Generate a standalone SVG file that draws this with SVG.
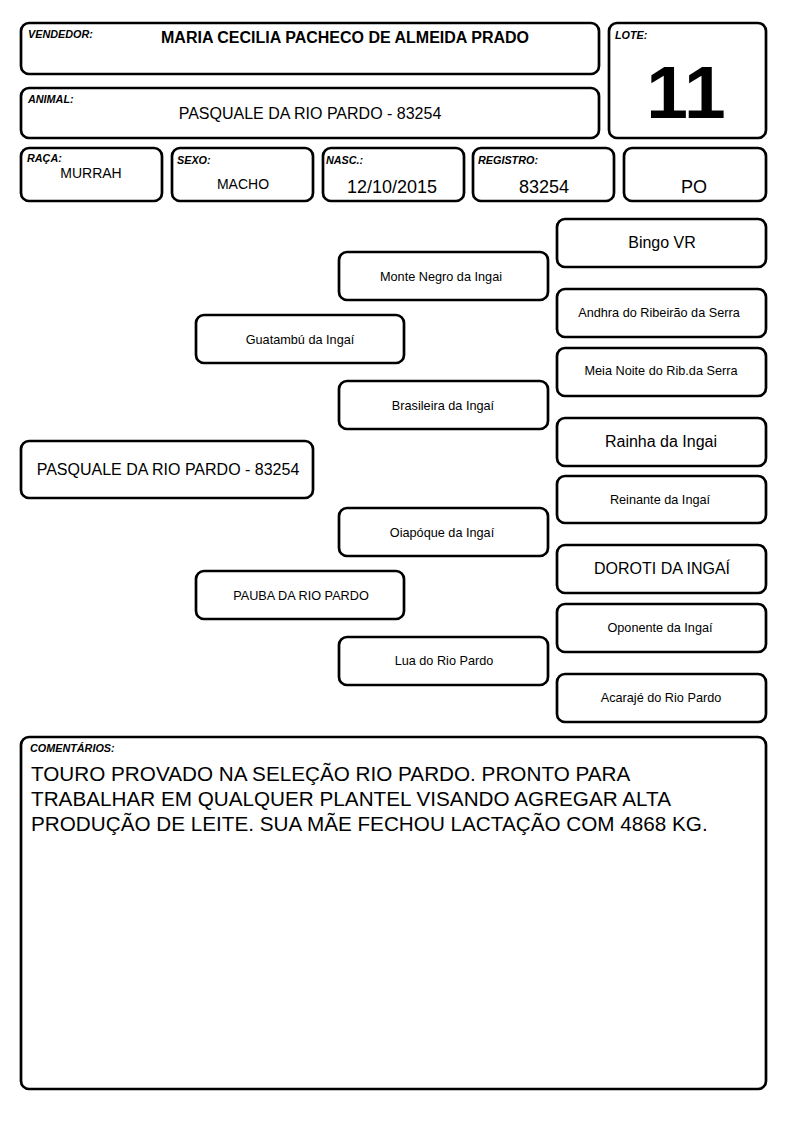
<svg xmlns="http://www.w3.org/2000/svg" width="794" height="1123" viewBox="0 0 794 1123">
<style>
.b{fill:#fff;stroke:#000;stroke-width:2.7}
.lbl{font-family:"Liberation Sans",Arial,sans-serif;font-size:10.8px;font-weight:bold;font-style:italic}
.t{font-family:"Liberation Sans",Arial,sans-serif;fill:#000}
.c{text-anchor:middle}
.s{font-size:12.7px}
.m{font-size:16px}
.l{font-size:18px}
</style>
<rect width="794" height="1123" fill="#fff"/>
<g id="vendedor"><rect class="b" x="21" y="23" width="578" height="51" rx="8"/><text class="lbl" x="28" y="38">VENDEDOR:</text><text class="t c" x="345" y="43" font-size="16" font-weight="bold">MARIA CECILIA PACHECO DE ALMEIDA PRADO</text></g>
<g id="animal"><rect class="b" x="21" y="88" width="578" height="50" rx="8"/><text class="lbl" x="28" y="103">ANIMAL:</text><text class="t c m" x="310" y="119">PASQUALE DA RIO PARDO - 83254</text></g>
<g id="lote"><rect class="b" x="609" y="23" width="157" height="115" rx="8"/><text class="lbl" x="615" y="39">LOTE:</text><text class="t c" x="686" y="118" font-size="75" font-weight="bold">11</text></g>
<g id="raca"><rect class="b" x="21" y="148" width="141" height="53" rx="8"/><text class="lbl" x="27" y="162">RAÇA:</text><text class="t c" x="91" y="178" font-size="14">MURRAH</text></g>
<g id="sexo"><rect class="b" x="172" y="148" width="141" height="53" rx="8"/><text class="lbl" x="177" y="164">SEXO:</text><text class="t c" x="243" y="189" font-size="14">MACHO</text></g>
<g id="nasc"><rect class="b" x="323" y="148" width="141" height="53" rx="8"/><text class="lbl" x="326" y="164">NASC.:</text><text class="t c l" x="392" y="193">12/10/2015</text></g>
<g id="registro"><rect class="b" x="473" y="148" width="141" height="53" rx="8"/><text class="lbl" x="478" y="164">REGISTRO:</text><text class="t c l" x="544" y="193">83254</text></g>
<g id="po"><rect class="b" x="624" y="148" width="142" height="53" rx="8"/><text class="t c l" x="694" y="193">PO</text></g>
<g id="connectors"></g>
<g id="pasquale"><rect class="b" x="21" y="441" width="292" height="57" rx="8"/><text class="t c m" x="168" y="475">PASQUALE DA RIO PARDO - 83254</text></g>
<g id="guatambu"><rect class="b" x="196" y="315" width="208" height="48" rx="8"/><text class="t c s" x="300" y="344">Guatambú da Ingaí</text></g>
<g id="pauba"><rect class="b" x="196" y="571" width="208" height="48" rx="8"/><text class="t c s" x="301" y="600">PAUBA DA RIO PARDO</text></g>
<g id="montenegro"><rect class="b" x="339" y="252" width="209" height="48" rx="8"/><text class="t c s" x="441" y="281">Monte Negro da Ingai</text></g>
<g id="brasileira"><rect class="b" x="339" y="381" width="209" height="48" rx="8"/><text class="t c s" x="443" y="410">Brasileira da Ingaí</text></g>
<g id="oiapoque"><rect class="b" x="339" y="508" width="209" height="48" rx="8"/><text class="t c s" x="442" y="537">Oiapóque da Ingaí</text></g>
<g id="lua"><rect class="b" x="339" y="637" width="209" height="48" rx="8"/><text class="t c s" x="444" y="665">Lua do Rio Pardo</text></g>
<g id="bingo"><rect class="b" x="557" y="219" width="209" height="48" rx="8"/><text class="t c m" x="662" y="248">Bingo VR</text></g>
<g id="andhra"><rect class="b" x="557" y="289" width="209" height="48" rx="8"/><text class="t c s" x="659" y="317">Andhra do Ribeirão da Serra</text></g>
<g id="meianoite"><rect class="b" x="557" y="348" width="209" height="48" rx="8"/><text class="t c s" x="661" y="375">Meia Noite do Rib.da Serra</text></g>
<g id="rainha"><rect class="b" x="557" y="418" width="209" height="48" rx="8"/><text class="t c m" x="661" y="447">Rainha da Ingai</text></g>
<g id="reinante"><rect class="b" x="557" y="476" width="209" height="47" rx="8"/><text class="t c s" x="660" y="504">Reinante da Ingaí</text></g>
<g id="doroti"><rect class="b" x="557" y="545" width="209" height="48" rx="8"/><text class="t c m" x="662" y="574">DOROTI DA INGAÍ</text></g>
<g id="oponente"><rect class="b" x="557" y="604" width="209" height="48" rx="8"/><text class="t c s" x="660" y="632">Oponente da Ingaí</text></g>
<g id="acaraje"><rect class="b" x="557" y="674" width="209" height="48" rx="8"/><text class="t c s" x="661" y="702">Acarajé do Rio Pardo</text></g>
<g id="comentarios"><rect class="b" x="21" y="737" width="745" height="352" rx="8"/><text class="lbl" x="30" y="752">COMENTÁRIOS:</text>
<text class="t" x="31" y="781" font-size="20.7">TOURO PROVADO NA SELEÇÃO RIO PARDO. PRONTO PARA</text>
<text class="t" x="31" y="806" font-size="20.7">TRABALHAR EM QUALQUER PLANTEL VISANDO AGREGAR ALTA</text>
<text class="t" x="31" y="831" font-size="20.7">PRODUÇÃO DE LEITE. SUA MÃE FECHOU LACTAÇÃO COM 4868 KG.</text></g>
</svg>
